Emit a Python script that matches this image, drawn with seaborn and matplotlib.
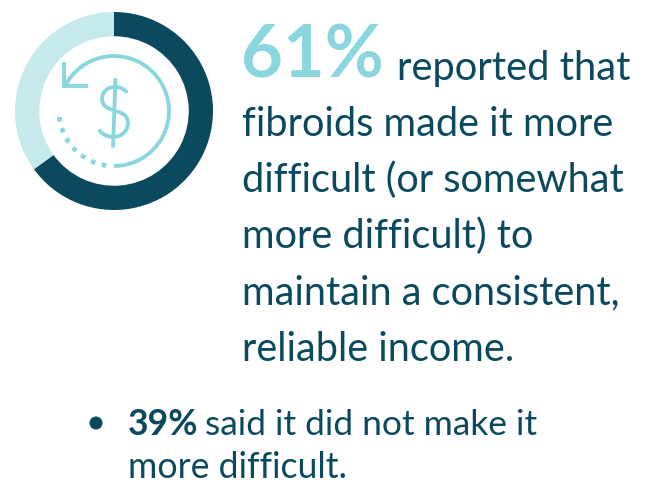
import numpy as np
import matplotlib
matplotlib.use("Agg")
import matplotlib.pyplot as plt
import matplotlib.patheffects as pe
from matplotlib.patches import Arc, Circle
import seaborn as sns

sns.set_theme(style="white")
plt.rcParams['font.family'] = ['Lato', 'DejaVu Sans']

donut_labels = ["More difficult", "Not more difficult"]
donut_values = [65, 35]  # shares as drawn on the ring
headline = "61%"
headline_rest = "reported that"
body_lines = ["fibroids made it more", "difficult (or somewhat", "more difficult) to",
              "maintain a consistent,", "reliable income."]
bullet_pct = "39%"
bullet_rest = "said it did not make it"
bullet_line2 = "more difficult."

DARK = "#0b4a5e"
LIGHT = "#c6e9ec"
MID = "#8ad6df"

W, H = 652, 489
fig = plt.figure(figsize=(W/100, H/100), dpi=100, facecolor="white")
bg = fig.add_axes([0, 0, 1, 1])
bg.set_xlim(0, W); bg.set_ylim(H, 0); bg.axis("off")

# donut
cx, cy, r = 114, 112, 99
ax = fig.add_axes([(cx-r)/W, 1-(cy+r)/H, 2*r/W, 2*r/H])
ax.pie(donut_values, colors=[DARK, LIGHT], startangle=90, counterclock=False, radius=1,
       wedgeprops=dict(width=0.245, linewidth=0))
ax.set_xlim(-1, 1); ax.set_ylim(-1, 1)
ax.patch.set_alpha(0)

# icon (y axis is inverted, so Arc angles run clockwise on screen)
icon = fig.add_axes([0, 0, 1, 1])
icon.set_xlim(0, W); icon.set_ylim(H, 0); icon.axis("off"); icon.patch.set_alpha(0)
icon.add_patch(Arc((114, 112), 110, 110, theta1=205, theta2=450, color=MID, lw=2.8))
icon.add_patch(Arc((114, 112), 110, 110, theta1=98, theta2=180, color=MID, lw=3.4,
                   ls=(0, (1.0, 1.4))))
icon.plot([64, 64, 88], [63, 87, 87], color=MID, lw=2.8, solid_joinstyle="miter",
          solid_capstyle="butt")
icon.text(114, 111, "$", fontsize=51, color=MID, ha="center", va="center_baseline",
          fontweight="light",
          path_effects=[pe.withStroke(linewidth=2.2, foreground=MID)])

# texts
bg.text(241.5, 78, headline, fontsize=52, fontweight="bold", color=MID, va="baseline", ha="left")
bg.text(397, 80, headline_rest, fontsize=28.7, color=DARK, va="baseline", ha="left")
for i, line in enumerate(body_lines):
    bg.text(242, 136 + i*56.2, line, fontsize=28.6, color=DARK, va="baseline", ha="left")
bg.add_patch(Circle((96, 424), 6.5, color=DARK, lw=0))
bg.text(128, 435, bullet_pct, fontsize=25.7, fontweight="bold", color=DARK, va="baseline", ha="left")
bg.text(205, 435, bullet_rest, fontsize=25.5, color=DARK, va="baseline", ha="left")
bg.text(128, 478, bullet_line2, fontsize=25.7, color=DARK, va="baseline", ha="left")

fig.savefig("out.png", dpi=100)
